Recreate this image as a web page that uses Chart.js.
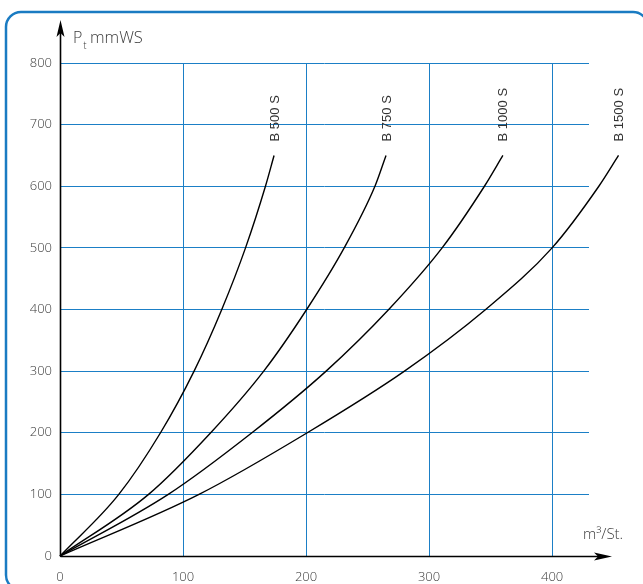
<!DOCTYPE html>
<html lang="de">
<head>
    <meta charset="UTF-8">
    <title>Kennlinien B-Serie</title>
    <script src="https://cdn.jsdelivr.net/npm/chart.js"></script>
    <style>
        html, body {
            margin: 0;
            padding: 0;
            background: #fff;
        }

        .chart-box {
            position: relative;
            width: 643px;
            height: 584px;
        }
    </style>
</head>

<body>
    <div class="chart-box">
        <canvas id="curveChart" width="643" height="584"></canvas>
    </div>

    <script>
        // Volumenstrom (m³/St.) und Druck (mmWS) je Gerät
        const seriesNames = ['B 500 S', 'B 750 S', 'B 1000 S', 'B 1500 S'];

        const flowB500 = [0, 47.8, 81.7, 109, 131.5, 150.8, 167, 174];
        const pressB500 = [0, 100, 200, 300, 400, 500, 600, 650];

        const flowB750 = [0, 72, 122.5, 165.6, 200.5, 231, 256, 265];
        const pressB750 = [0, 100, 200, 300, 400, 500, 600, 650];

        const flowB1000 = [0, 88, 156, 216.3, 267.2, 310.6, 345, 360];
        const pressB1000 = [0, 100, 200, 300, 400, 500, 600, 650];

        const flowB1500 = [0, 113, 201, 280, 346, 400, 438, 454];
        const pressB1500 = [0, 100, 200, 300, 400, 500, 600, 650];

        const xTicks = [0, 100, 200, 300, 400];
        const yTicks = [0, 100, 200, 300, 400, 500, 600, 700, 800];
        const xEnd = 430; // Gitter endet hier, Kurven dürfen darüber hinaus

        const gridBlue = '#1b7fc6';
        const textGrey = '#3a3a3a';

        function toPoints(flow, press) {
            return flow.map((q, i) => ({ x: q, y: press[i] }));
        }

        const curves = [
            toPoints(flowB500, pressB500),
            toPoints(flowB750, pressB750),
            toPoints(flowB1000, pressB1000),
            toPoints(flowB1500, pressB1500)
        ];

        // Rahmen, Achsen mit Pfeilen, Achsentitel und Kurvenbeschriftung
        const decorations = {
            id: 'decorations',
            beforeDraw(chart) {
                const ctx = chart.ctx;
                ctx.save();
                ctx.fillStyle = '#fff';
                ctx.fillRect(0, 0, chart.width, chart.height);
                ctx.strokeStyle = '#1a7bc2';
                ctx.lineWidth = 2.5;
                ctx.beginPath();
                ctx.roundRect(6, 12, 642, 578, 15);
                ctx.stroke();
                ctx.restore();
            },
            afterDraw(chart) {
                const ctx = chart.ctx;
                const xs = chart.scales.x;
                const ys = chart.scales.y;
                const x0 = Math.round(xs.getPixelForValue(0)) + 0.5;
                const y0 = Math.round(ys.getPixelForValue(0)) + 0.5;

                ctx.save();
                ctx.strokeStyle = '#000';
                ctx.fillStyle = '#000';
                ctx.lineWidth = 1.6;

                // y-Achse
                ctx.beginPath();
                ctx.moveTo(x0, y0);
                ctx.lineTo(x0, 30);
                ctx.stroke();
                ctx.beginPath();
                ctx.moveTo(x0, 20);
                ctx.lineTo(x0 - 4, 37);
                ctx.lineTo(x0, 33);
                ctx.lineTo(x0 + 4, 37);
                ctx.closePath();
                ctx.fill();

                // x-Achse
                ctx.beginPath();
                ctx.moveTo(x0, y0);
                ctx.lineTo(602, y0);
                ctx.stroke();
                ctx.beginPath();
                ctx.moveTo(612, y0);
                ctx.lineTo(594, y0 - 4);
                ctx.lineTo(598, y0);
                ctx.lineTo(594, y0 + 4);
                ctx.closePath();
                ctx.fill();

                // Achsentitel
                ctx.fillStyle = textGrey;
                ctx.textBaseline = 'alphabetic';
                ctx.textAlign = 'left';
                ctx.font = '300 16px "Open Sans"';
                ctx.fillText('P', 73, 43);
                let w = ctx.measureText('P').width;
                ctx.font = '300 10px "Open Sans"';
                ctx.fillText('t', 73 + w + 1, 49);
                ctx.font = '300 16.5px "Open Sans"';
                ctx.fillText('mmWS', 90, 43);

                ctx.font = '300 15px "Open Sans"';
                ctx.fillText('m³/St.', 583, 539);

                // Kurvenbeschriftung senkrecht über dem Kurvenende
                ctx.fillStyle = '#333';
                ctx.font = '13px "Liberation Sans", Arial, sans-serif';
                chart.data.datasets.forEach(ds => {
                    const last = ds.data[ds.data.length - 1];
                    const px = xs.getPixelForValue(last.x);
                    const py = ys.getPixelForValue(last.y);
                    ctx.save();
                    ctx.translate(px + 1, py - 14);
                    ctx.rotate(-Math.PI / 2);
                    ctx.textAlign = 'left';
                    ctx.textBaseline = 'middle';
                    ctx.fillText(ds.label, 0, 0);
                    ctx.restore();
                });
                ctx.restore();
            }
        };

        new Chart(document.getElementById('curveChart'), {
            type: 'line',
            data: {
                datasets: curves.map((pts, i) => ({
                    label: seriesNames[i],
                    data: pts,
                    borderColor: '#000',
                    borderWidth: 1.4,
                    pointRadius: 0,
                    fill: false,
                    cubicInterpolationMode: 'monotone',
                    clip: false
                }))
            },
            options: {
                responsive: false,
                animation: false,
                layout: {
                    padding: { left: 10, top: 63, right: 54, bottom: 0 }
                },
                plugins: {
                    legend: { display: false },
                    tooltip: { enabled: false }
                },
                scales: {
                    x: {
                        type: 'linear',
                        bounds: 'data',
                        // Grenzen erst hier setzen, damit auch Punkte jenseits xEnd gezeichnet werden
                        afterDataLimits(scale) {
                            scale.min = 0;
                            scale.max = xEnd;
                        },
                        afterBuildTicks(scale) {
                            scale.ticks = xTicks.map(v => ({ value: v }));
                            scale.min = 0;
                            scale.max = xEnd;
                        },
                        afterFit(scale) { scale.height = 28; },
                        ticks: {
                            padding: 13,
                            color: textGrey,
                            font: { family: '"Open Sans"', size: 13, weight: 300 }
                        },
                        grid: {
                            color: gridBlue,
                            lineWidth: 1,
                            drawTicks: false
                        },
                        border: { display: false }
                    },
                    y: {
                        min: 0,
                        max: 800,
                        afterFit(scale) { scale.width = 50; },
                        afterBuildTicks(scale) {
                            scale.ticks = yTicks.map(v => ({ value: v }));
                        },
                        ticks: {
                            padding: 8,
                            color: textGrey,
                            font: { family: '"Open Sans"', size: 13, weight: 300 }
                        },
                        grid: {
                            color: gridBlue,
                            lineWidth: 1,
                            drawTicks: false
                        },
                        border: { display: false }
                    }
                }
            },
            plugins: [decorations]
        });
    </script>
</body>
</html>
